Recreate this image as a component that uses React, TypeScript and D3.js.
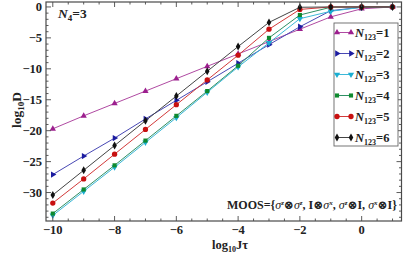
import { useEffect, useRef } from "react";
import * as d3 from "d3";

const logJt = [-10, -9, -8, -7, -6, -5, -4, -3, -2, -1, 0, 1];
const n123_1 = [-19.7, -17.6, -15.6, -13.6, -11.6, -9.6, -7.6, -5.6, -3.6, -1.6, -0.3, 0];
const n123_2 = [-27.1, -24.1, -21.2, -18.1, -15.1, -12.1, -9.1, -6.1, -3.2, -0.6, -0.05, 0];
const n123_3 = [-33.7, -29.8, -25.9, -21.9, -17.9, -13.8, -9.7, -5.8, -1.9, -0.7, -0.05, 0];
const n123_4 = [-33.4, -29.5, -25.6, -21.6, -17.6, -13.6, -9.5, -5.0, -1.3, -0.05, 0, 0];
const n123_5 = [-31.7, -27.8, -23.8, -19.8, -15.8, -11.8, -7.8, -3.6, -0.4, 0, 0, 0];
const n123_6 = [-30.4, -26.4, -22.4, -18.4, -14.4, -10.4, -6.4, -2.5, -0.05, 0, 0, 0];

const xTicks = [-10, -8, -6, -4, -2, 0];
const yTicks = [0, -5, -10, -15, -20, -25, -30];

const series = [
  { label: "1", values: n123_1, marker: "triUp", color: "#9c1f8e", line: "#b04aa2" },
  { label: "2", values: n123_2, marker: "triRight", color: "#1c1ca0", line: "#4848b4" },
  { label: "3", values: n123_3, marker: "triDown", color: "#1aaed2", line: "#3cb8d8" },
  { label: "4", values: n123_4, marker: "square", color: "#0e8a2e", line: "#2e9064" },
  { label: "5", values: n123_5, marker: "circle", color: "#c81010", line: "#d23a3a" },
  { label: "6", values: n123_6, marker: "diamond", color: "#111111", line: "#444444" },
];

const W = 416;
const H = 260;
const frame = { left: 46, right: 401.5, top: 2, bottom: 221 };
const FONT = "'Liberation Serif', Tinos, 'Times New Roman', 'DejaVu Serif', serif";

function markerPath(kind: string) {
  const gen = d3.symbol();
  if (kind === "triUp" || kind === "triRight" || kind === "triDown") return gen.type(d3.symbolTriangle).size(17)()!;
  if (kind === "square") return gen.type(d3.symbolSquare).size(17)()!;
  if (kind === "circle") return gen.type(d3.symbolCircle).size(22)()!;
  return gen.type(d3.symbolDiamond).size(18)()!;
}

function markerRotate(kind: string) {
  if (kind === "triRight") return 90;
  if (kind === "triDown") return 180;
  return 0;
}

const Chart = () => {
  const svgRef = useRef<SVGSVGElement | null>(null);

  useEffect(() => {
    const svg = d3.select(svgRef.current);
    svg.selectAll("*").remove();

    const x = d3.scaleLinear().domain([-10.22, 1.29]).range([frame.left, frame.right]);
    const y = d3.scaleLinear().domain([-34.6, 0.8]).range([frame.bottom, frame.top]);

    // Data lines + markers
    series.forEach((s) => {
      const pts = s.values.map((v, i) => [logJt[i], v] as [number, number]);
      svg
        .append("path")
        .datum(pts)
        .attr("fill", "none")
        .attr("stroke", s.line)
        .attr("stroke-width", 1)
        .attr(
          "d",
          d3
            .line<[number, number]>()
            .x((d) => x(d[0]))
            .y((d) => y(d[1]))
        );
      svg
        .append("g")
        .selectAll("path")
        .data(pts)
        .join("path")
        .attr("d", markerPath(s.marker))
        .attr("fill", s.color)
        .attr(
          "transform",
          (d) => `translate(${x(d[0])},${y(d[1])}) rotate(${markerRotate(s.marker)})`
        );
    });

    // Frame
    svg
      .append("rect")
      .attr("x", frame.left)
      .attr("y", frame.top)
      .attr("width", frame.right - frame.left)
      .attr("height", frame.bottom - frame.top)
      .attr("fill", "none")
      .attr("stroke", "#4a4a4a")
      .attr("stroke-width", 1.2);

    // Ticks (inside, all four sides)
    const ticks = svg.append("g").attr("stroke", "#4a4a4a").attr("stroke-width", 0.9);
    const xMinor = d3.range(-10, 1.01, 0.5).filter((v) => !xTicks.includes(v));
    const yMinor = d3.range(0, -34.01, -1).filter((v) => !yTicks.includes(v));
    const xAll = [...xTicks.map((v) => ({ v, len: 5 })), ...xMinor.map((v) => ({ v, len: 2.5 }))];
    const yAll = [...yTicks.map((v) => ({ v, len: 5 })), ...yMinor.map((v) => ({ v, len: 2.5 }))];
    xAll.forEach((t) => {
      ticks.append("line").attr("x1", x(t.v)).attr("x2", x(t.v)).attr("y1", frame.bottom).attr("y2", frame.bottom - t.len);
      ticks.append("line").attr("x1", x(t.v)).attr("x2", x(t.v)).attr("y1", frame.top).attr("y2", frame.top + t.len);
    });
    yAll.forEach((t) => {
      ticks.append("line").attr("y1", y(t.v)).attr("y2", y(t.v)).attr("x1", frame.left).attr("x2", frame.left + t.len);
      ticks.append("line").attr("y1", y(t.v)).attr("y2", y(t.v)).attr("x1", frame.right).attr("x2", frame.right - t.len);
    });

    // Tick labels
    const lab = svg
      .append("g")
      .style("font-family", FONT)
      .attr("font-weight", "bold")
      .attr("font-size", 12.5)
      .attr("fill", "#222");
    xTicks.forEach((v) => {
      lab
        .append("text")
        .attr("x", x(v))
        .attr("y", 234)
        .attr("text-anchor", "middle")
        .text(v < 0 ? `\u2212${-v}` : `${v}`);
    });
    yTicks.forEach((v) => {
      lab
        .append("text")
        .attr("x", 42)
        .attr("y", y(v) + 4)
        .attr("text-anchor", "end")
        .text(v < 0 ? `\u2212${-v}` : `${v}`);
    });

    // Axis titles
    const xl = svg
      .append("text")
      .attr("x", 230)
      .attr("y", 249)
      .attr("text-anchor", "middle")
      .style("font-family", FONT)
      .attr("font-weight", "bold")
      .attr("font-size", 12.5)
      .attr("fill", "#222");
    xl.append("tspan").text("log");
    xl.append("tspan").attr("font-size", 8).attr("dy", 3).text("10");
    xl.append("tspan").attr("dy", -3).text("J\u03c4");

    const yl = svg
      .append("text")
      .attr("transform", `translate(21,${110}) rotate(-90)`)
      .attr("text-anchor", "middle")
      .style("font-family", FONT)
      .attr("font-weight", "bold")
      .attr("font-size", 13.5)
      .attr("fill", "#222");
    yl.append("tspan").text("log");
    yl.append("tspan").attr("font-size", 9).attr("dy", 3).text("10");
    yl.append("tspan").attr("dy", -3).text("D");

    // N4=3 annotation
    const ann = svg
      .append("text")
      .attr("x", 58)
      .attr("y", 18)
      .style("font-family", FONT)
      .attr("font-weight", "bold")
      .attr("font-size", 13.5)
      .attr("fill", "#222");
    ann.append("tspan").attr("font-style", "italic").text("N");
    ann.append("tspan").attr("font-size", 9).attr("dy", 3).text("4");
    ann.append("tspan").attr("dy", -3).text("=3");

    // MOOS annotation
    const moos = svg
      .append("text")
      .attr("x", 397)
      .attr("y", 209)
      .attr("text-anchor", "end")
      .style("font-family", FONT)
      .attr("font-weight", "bold")
      .attr("font-size", 12)
      .attr("fill", "#222");
    const sup = (t: string) => moos.append("tspan").attr("font-size", 7).attr("dy", -4).attr("font-style", "italic").text(t);
    const norm = (t: string, dy = 0) => moos.append("tspan").attr("dy", dy).text(t);
    const sig = () => moos.append("tspan").attr("font-style", "italic").attr("font-weight", "normal").text("\u03c3");
    norm("MOOS={");
    sig(); sup("z"); norm("\u2297", 4); sig(); sup("z"); norm(", I\u2297", 4);
    sig(); sup("x"); norm(", ", 4); sig(); sup("z"); norm("\u2297I, ", 4);
    sig(); sup("x"); norm("\u2297I}", 4);

    // Legend
    const legend = svg.append("g");
    legend
      .append("rect")
      .attr("x", 334)
      .attr("y", 23)
      .attr("width", 64)
      .attr("height", 123)
      .attr("fill", "white")
      .attr("stroke", "#666")
      .attr("stroke-width", 0.9);
    series.forEach((s, i) => {
      const ly = 32.5 + i * 21;
      const g = legend.append("g");
      g.append("line").attr("x1", 337).attr("x2", 351).attr("y1", ly).attr("y2", ly).attr("stroke", s.line).attr("stroke-width", 1);
      [337, 351].forEach((mx) => {
        g.append("path")
          .attr("d", markerPath(s.marker))
          .attr("fill", s.color)
          .attr("transform", `translate(${mx},${ly}) rotate(${markerRotate(s.marker)})`);
      });
      const t = g
        .append("text")
        .attr("x", 355)
        .attr("y", ly + 4)
        .style("font-family", FONT)
        .attr("font-weight", "bold")
        .attr("font-size", 12.5)
        .attr("fill", "#222");
      t.append("tspan").attr("font-style", "italic").text("N");
      t.append("tspan").attr("font-size", 8).attr("dy", 3).text("123");
      t.append("tspan").attr("dy", -3).text(`=${s.label}`);
    });
  }, []);

  return <svg ref={svgRef} width={W} height={H} style={{ background: "white", display: "block" }} />;
};

export default function App() {
  return (
    <div style={{ position: "absolute", left: 0, top: 0 }}>
      <Chart />
    </div>
  );
}
